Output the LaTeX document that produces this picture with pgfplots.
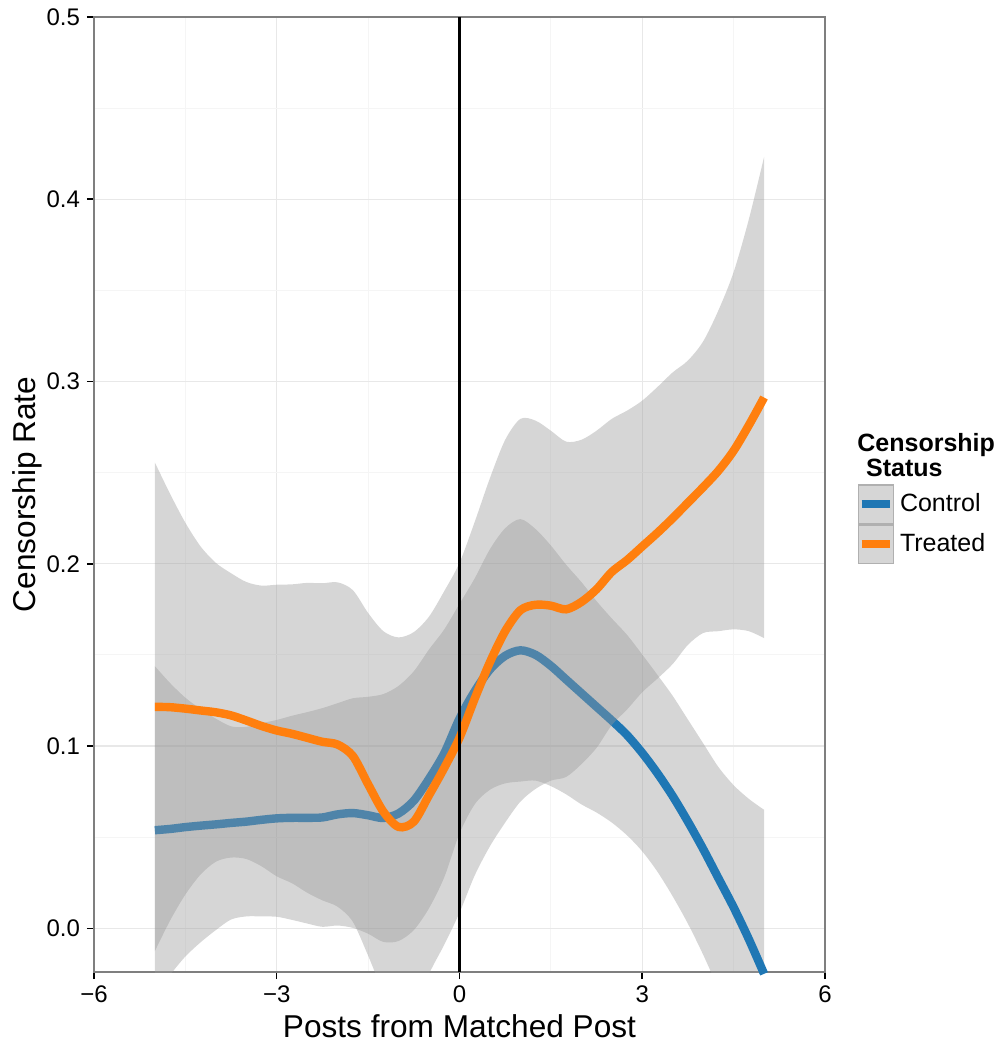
\documentclass[border=0pt]{standalone}
\usepackage{fontspec}
\setmainfont{Liberation Sans}
\usepackage{pgfplots}
\pgfplotsset{compat=1.18}
\usepackage{pgfplotstable}
\usepgfplotslibrary{fillbetween}
\usetikzlibrary{calc}
\definecolor{ctrlblue}{HTML}{1F77B4}
\definecolor{treatorange}{HTML}{FF7F0E}
\definecolor{band}{HTML}{999999}
\definecolor{keyfill}{HTML}{D6D6D6}
\definecolor{keyborder}{HTML}{B0B0B0}
\definecolor{framegray}{HTML}{7F7F7F}

% Control: x, fit, upper, lower
\pgfplotstableread{
x c cu cl
-5.00 0.0538 0.1438 -0.0362
-4.75 0.0545 0.1345 -0.0255
-4.50 0.0555 0.1265 -0.0155
-4.25 0.0563 0.1203 -0.0077
-4.00 0.0570 0.1150 -0.0010
-3.75 0.0578 0.1108 0.0048
-3.50 0.0585 0.1105 0.0065
-3.25 0.0595 0.1125 0.0065
-3.00 0.0603 0.1143 0.0063
-2.75 0.0606 0.1166 0.0046
-2.50 0.0606 0.1186 0.0026
-2.25 0.0608 0.1208 0.0008
-2.00 0.0625 0.1235 0.0015
-1.75 0.0632 0.1262 0.0002
-1.50 0.0620 0.1270 -0.0030
-1.25 0.0605 0.1285 -0.0075
-1.00 0.0630 0.1330 -0.0070
-0.75 0.0700 0.1410 -0.0010
-0.50 0.0820 0.1530 0.0110
-0.25 0.0960 0.1640 0.0280
0.00 0.1150 0.1780 0.0520
0.25 0.1300 0.1920 0.0680
0.50 0.1420 0.2080 0.0760
0.75 0.1495 0.2195 0.0795
1.00 0.1525 0.2245 0.0805
1.25 0.1500 0.2190 0.0810
1.50 0.1440 0.2100 0.0780
1.75 0.1365 0.1995 0.0735
2.00 0.1290 0.1900 0.0680
2.25 0.1215 0.1795 0.0635
2.50 0.1140 0.1700 0.0580
2.75 0.1060 0.1610 0.0510
3.00 0.0962 0.1502 0.0422
3.25 0.0850 0.1390 0.0310
3.50 0.0725 0.1275 0.0175
3.75 0.0585 0.1145 0.0025
4.00 0.0435 0.1015 -0.0145
4.25 0.0275 0.0885 -0.0335
4.50 0.0115 0.0785 -0.0555
4.75 -0.0060 0.0710 -0.0830
5.00 -0.0250 0.0650 -0.1150
}\ctrl

% Treated: x, fit, upper, lower
\pgfplotstableread{
x t tu tl
-5.00 0.1215 0.2555 -0.0125
-4.75 0.1213 0.2383 0.0043
-4.50 0.1205 0.2225 0.0185
-4.25 0.1195 0.2095 0.0295
-4.00 0.1185 0.2005 0.0365
-3.75 0.1168 0.1948 0.0388
-3.50 0.1140 0.1900 0.0380
-3.25 0.1110 0.1880 0.0340
-3.00 0.1085 0.1885 0.0285
-2.75 0.1067 0.1887 0.0247
-2.50 0.1045 0.1895 0.0195
-2.25 0.1023 0.1893 0.0153
-2.00 0.1008 0.1898 0.0118
-1.75 0.0945 0.1855 0.0035
-1.50 0.0790 0.1730 -0.0150
-1.25 0.0640 0.1630 -0.0350
-1.00 0.0556 0.1596 -0.0484
-0.75 0.0585 0.1625 -0.0455
-0.50 0.0730 0.1710 -0.0250
-0.25 0.0880 0.1850 -0.0090
0.00 0.1045 0.2005 0.0085
0.25 0.1260 0.2230 0.0290
0.50 0.1460 0.2470 0.0450
0.75 0.1630 0.2680 0.0580
1.00 0.1745 0.2795 0.0695
1.25 0.1775 0.2785 0.0765
1.50 0.1770 0.2730 0.0810
1.75 0.1750 0.2670 0.0830
2.00 0.1790 0.2680 0.0900
2.25 0.1860 0.2730 0.0990
2.50 0.1955 0.2795 0.1115
2.75 0.2020 0.2840 0.1200
3.00 0.2095 0.2895 0.1295
3.25 0.2170 0.2970 0.1370
3.50 0.2250 0.3050 0.1450
3.75 0.2335 0.3115 0.1555
4.00 0.2420 0.3220 0.1620
4.25 0.2510 0.3390 0.1630
4.50 0.2620 0.3600 0.1640
4.75 0.2760 0.3890 0.1630
5.00 0.2912 0.4232 0.1592
}\treat

\begin{document}
\begin{tikzpicture}
\begin{axis}[
  set layers,
  scale only axis,
  width=365.5pt, height=477.5pt,
  xmin=-6, xmax=6, ymin=-0.024, ymax=0.5,
  xtick={-6,-3,0,3,6},
  xticklabels={−6,−3,0,3,6},
  ytick={0,0.1,0.2,0.3,0.4,0.5},
  yticklabels={0.0,0.1,0.2,0.3,0.4,0.5},
  minor xtick={-4.5,-1.5,1.5,4.5},
  minor ytick={0.05,0.15,0.25,0.35,0.45},
  grid=both,
  major grid style={black!9, line width=0.6pt},
  minor grid style={black!4, line width=0.6pt},
  tick pos=left, tick align=outside,
  major tick length=3.5pt, minor tick length=0pt,
  tick style={black, line width=0.75pt},
  axis line style={framegray, line width=0.75pt},
  ticklabel style={font=\fontsize{12}{14}\selectfont},
  xlabel={Posts from Matched Post},
  ylabel={Censorship Rate},
  label style={font=\fontsize{15.8}{18}\selectfont},
  xlabel style={at={(axis description cs:0.5,-0.0691)}, anchor=base},
  ylabel style={at={(axis description cs:-0.0807,0.5)}, anchor=base},
  legend style={at={(1.0438,0.511)}, anchor=north west, draw=none, fill=none,
    inner sep=0pt, row sep=0pt, column sep=3pt,
    nodes={inner sep=0pt, outer sep=0pt},
    font=\fontsize{12.5}{15}\selectfont},
  legend cell align=left,
  legend image code/.code={
    \draw[draw=keyborder, fill=keyfill, line width=0.7pt, solid] (0pt,-9.6pt) rectangle (17.5pt,9.6pt);
    \draw[#1, line cap=butt] (1.7pt,0pt) -- (15.8pt,0pt);
  },
]
\addplot[draw=none, smooth, name path=cu, forget plot] table[x=x, y=cu] {\ctrl};
\addplot[draw=none, smooth, name path=cl, forget plot] table[x=x, y=cl] {\ctrl};
\addplot[fill=band, fill opacity=0.4, draw=none, forget plot] fill between[of=cu and cl, on layer=pre main];
\addplot[ctrlblue, line width=4.2pt, smooth, line cap=butt, on layer=pre main] table[x=x, y=c] {\ctrl};
\addlegendentry{Control}
\addplot[draw=none, smooth, name path=tu, forget plot] table[x=x, y=tu] {\treat};
\addplot[draw=none, smooth, name path=tl, forget plot] table[x=x, y=tl] {\treat};
\addplot[fill=band, fill opacity=0.4, draw=none, forget plot] fill between[of=tu and tl, on layer=pre main];
\addplot[treatorange, line width=4.2pt, smooth, line cap=butt] table[x=x, y=t] {\treat};
\addlegendentry{Treated}
\addplot[black, line width=1.2pt, forget plot] coordinates {(0,-0.024) (0,0.5)};
\coordinate (ttlA) at (rel axis cs:1.0438,0.5448);
\coordinate (ttlB) at (rel axis cs:1.0557,0.5186);
\end{axis}
\node[anchor=base west, inner sep=0pt, font=\bfseries\fontsize{12.5}{12.5}\selectfont] at (ttlA) {Censorship};
\node[anchor=base west, inner sep=0pt, font=\bfseries\fontsize{12.5}{12.5}\selectfont] at (ttlB) {Status};
\pgfresetboundingbox
\path[use as bounding box] ($(current axis.south west)+(-47pt,-35.5pt)$) rectangle ($(current axis.north east)+(87.5pt,8.5pt)$);
\end{tikzpicture}
\end{document}
